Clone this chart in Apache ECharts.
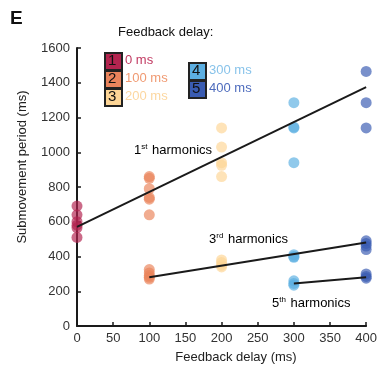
<!DOCTYPE html>
<html>
<head>
<meta charset="utf-8">
<script src="https://cdn.jsdelivr.net/npm/echarts@6/dist/echarts.min.js"></script>
<style>
  html, body { margin: 0; padding: 0; background: #fff; }
  #chart { width: 380px; height: 367px; }
</style>
</head>
<body>
<div id="chart"></div>
<script>
// feedback delays (ms)
const delays = [0, 100, 200, 300, 400];
const delayNames = ["0 ms", "100 ms", "200 ms", "300 ms", "400 ms"];
const dotColors = ["#b3244f", "#ea845c", "#fdd596", "#5cafe2", "#3a5cb2"];
const textColors = ["#c23a62", "#f09a72", "#fcd7a0", "#88c3ea", "#4d6bbd"];

// submovement periods (ms) per delay
const firstHarm = [
  [690, 640, 600, 580, 565, 510],
  [860, 850, 790, 740, 730, 640],
  [1140, 1030, 940, 925, 860],
  [1285, 1145, 1140, 940],
  [1465, 1285, 1140],
];
const thirdHarm = [
  [],
  [325, 305, 290, 280, 270],
  [380, 365, 350, 340],
  [410, 400, 395],
  [490, 475, 460, 440],
];
const fifthHarm = [
  [],
  [],
  [],
  [260, 245, 235],
  [300, 285, 275],
];

// fitted lines
const firstFit = [[0, 570], [400, 1375]];
const thirdFit = [[100, 280], [400, 480]];
const fifthFit = [[300, 245], [400, 280]];

const xTicks = [0, 50, 100, 150, 200, 250, 300, 350, 400];
const yTicks = [0, 200, 400, 600, 800, 1000, 1200, 1400, 1600];

const chart = echarts.init(document.getElementById("chart"));
const font = "Liberation Sans, Arial, sans-serif";

const dotSeries = delays.map((d, i) => {
  const pts = [];
  firstHarm[i].forEach((v) => pts.push([d, v]));
  thirdHarm[i].forEach((v) => pts.push([d, v]));
  fifthHarm[i].forEach((v) => pts.push([d, v]));
  return {
    name: delayNames[i],
    type: "scatter",
    data: pts,
    symbolSize: 11,
    clip: false,
    z: 3,
    itemStyle: { color: dotColors[i], opacity: 0.68 },
  };
});

const fitSeries = [firstFit, thirdFit, fifthFit].map((f) => ({
  type: "line",
  data: f,
  symbol: "none",
  z: 4,
  lineStyle: { color: "#1a1a1a", width: 2 },
}));

// legend boxes
const legendGraphics = [];
const boxPos = [
  [104, 52], [104, 70], [104, 88],
  [188, 62], [188, 80],
];
boxPos.forEach((p, i) => {
  legendGraphics.push({
    type: "rect",
    left: p[0], top: p[1],
    shape: { width: 17, height: 17 },
    style: { fill: dotColors[i], stroke: "#222", lineWidth: 2 },
  });
  legendGraphics.push({
    type: "text",
    left: p[0] + 4, top: p[1] + 1,
    style: { text: String(i + 1), font: "15px " + font, fill: "#111" },
  });
  legendGraphics.push({
    type: "text",
    left: p[0] + 21, top: p[1] + 2,
    style: { text: delayNames[i], font: "13px " + font, fill: textColors[i] },
  });
});

const rich = {
  n: { fontSize: 13, fontFamily: font, color: "#111" },
  s: { fontSize: 8, fontFamily: font, color: "#111", verticalAlign: "top", padding: [0, 1, 6, 0] },
};
function harmText(left, top, num, suf) {
  return {
    type: "text",
    left, top,
    style: { text: "{n|" + num + "}{s|" + suf + "}{n| harmonics}", rich },
  };
}

chart.setOption({
  animation: false,
  grid: { left: 77, right: 13, top: 48, bottom: 41 },
  xAxis: {
    type: "value",
    min: 0, max: 400, interval: 50,
    axisLine: { lineStyle: { color: "#1a1a1a", width: 2 } },
    axisTick: { inside: true, length: 4, lineStyle: { color: "#1a1a1a", width: 1.5 } },
    axisLabel: { fontSize: 13, fontFamily: font, color: "#333", margin: 6,
      formatter: (v) => (xTicks.includes(v) ? String(v) : "") },
    splitLine: { show: false },
  },
  yAxis: {
    type: "value",
    min: 0, max: 1600, interval: 200,
    axisLine: { show: true, lineStyle: { color: "#1a1a1a", width: 2 } },
    axisTick: { show: true, inside: true, length: 4, lineStyle: { color: "#1a1a1a", width: 1.5 } },
    axisLabel: { fontSize: 13, fontFamily: font, color: "#333", margin: 7,
      formatter: (v) => (yTicks.includes(v) ? String(v) : "") },
    splitLine: { show: false },
  },
  graphic: [
    { type: "text", left: 10, top: 9, style: { text: "E", font: "bold 19px " + font, fill: "#111" } },
    { type: "text", left: 118, top: 26, style: { text: "Feedback delay:", font: "13px " + font, fill: "#111" } },
    {
      type: "text", x: 22, y: 167, rotation: Math.PI / 2,
      style: { text: "Submovement period (ms)", font: "13px " + font, fill: "#222",
        align: "center", verticalAlign: "middle" },
    },
    {
      type: "text", x: 236, y: 357,
      style: { text: "Feedback delay (ms)", font: "13px " + font, fill: "#222",
        align: "center", verticalAlign: "middle" },
    },
    ...legendGraphics,
    harmText(134, 143, "1", "st"),
    harmText(209, 232, "3", "rd"),
    harmText(272, 296, "5", "th"),
  ],
  series: [...dotSeries, ...fitSeries],
});
</script>
</body>
</html>
